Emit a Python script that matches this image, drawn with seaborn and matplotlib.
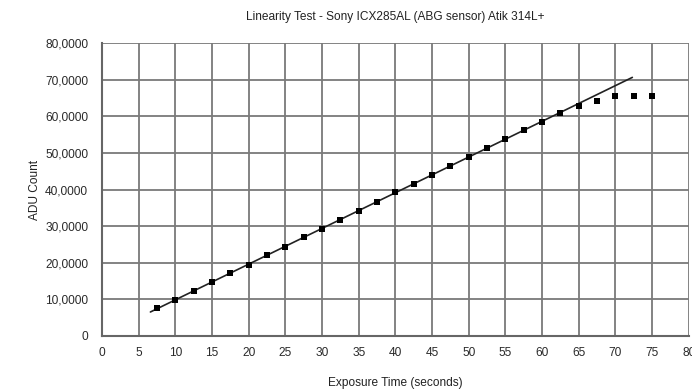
import numpy as np
import pandas as pd
import seaborn as sns
import matplotlib.pyplot as plt
from matplotlib.ticker import FixedLocator, FixedFormatter

#--Data--#
exposure = [7.5, 10, 12.5, 15, 17.5, 20, 22.5, 25, 27.5, 30, 32.5, 35, 37.5, 40,
            42.5, 45, 47.5, 50, 52.5, 55, 57.5, 60, 62.5, 65, 67.5, 70, 72.5, 75]
adu = [7600, 9900, 12300, 14700, 17200, 19500, 22000, 24400, 26900, 29300,
       31800, 34200, 36700, 39200, 41600, 44100, 46500, 48900, 51400, 53800,
       56200, 58500, 61000, 62950, 64200, 65600, 65600, 65550]
trend_range = [6.6, 72.3]
x_ticks = list(range(0, 85, 5))
y_ticks = list(range(0, 90000, 10000))
y_labels = ['0', '10,0000', '20,0000', '30,0000', '40,0000', '50,0000',
            '60,0000', '70,0000', '80,0000']

df = pd.DataFrame({'t': exposure, 'adu': adu})

#--Linear trend fitted on the linear part (before saturation)--#
lin = df[df['t'] <= 60]
slope, icept = np.polyfit(lin['t'], lin['adu'], 1)
trend = pd.DataFrame({'t': trend_range})
trend['adu'] = slope * trend['t'] + icept

sns.set_style('white')
plt.rcParams['font.family'] = ['Liberation Sans', 'DejaVu Sans']

fig = plt.figure(figsize=(6.92, 3.92), dpi=100)
# plot area runs slightly past the right edge, so the "80" label is cut like the original
ax = fig.add_axes([0.1474, 0.143, 0.848, 0.747])

sns.lineplot(data=trend, x='t', y='adu', color='#222222', linewidth=1.2, ax=ax)
sns.scatterplot(data=df, x='t', y='adu', marker='s', s=14, color='black',
                edgecolor='black', linewidth=0, ax=ax, zorder=3)

ax.set_xlim(0, 80)
ax.set_ylim(0, 80000)
ax.xaxis.set_major_locator(FixedLocator(x_ticks))
ax.yaxis.set_major_locator(FixedLocator(y_ticks))
ax.yaxis.set_major_formatter(FixedFormatter(y_labels))
ax.grid(True, color='#7a7a7a', linewidth=1.3)
ax.set_axisbelow(True)
for side in ['top', 'right']:
    ax.spines[side].set_visible(False)
for side in ['left', 'bottom']:
    ax.spines[side].set_color('#666666')
    ax.spines[side].set_linewidth(1.5)
ax.tick_params(axis='both', length=0, labelsize=8.6, labelcolor='#2a2a2a')
ax.tick_params(axis='x', pad=8)
ax.tick_params(axis='y', pad=10)

ax.set_xlabel('Exposure Time (seconds)', fontsize=8.6, color='#222222', labelpad=13)
ax.set_ylabel('ADU Count', fontsize=8.6, color='#222222', labelpad=3)
ax.set_title('Linearity Test - Sony ICX285AL (ABG sensor) Atik 314L+',
             fontsize=8.6, color='#222222', pad=17)

fig.savefig('out.png', dpi=100)
